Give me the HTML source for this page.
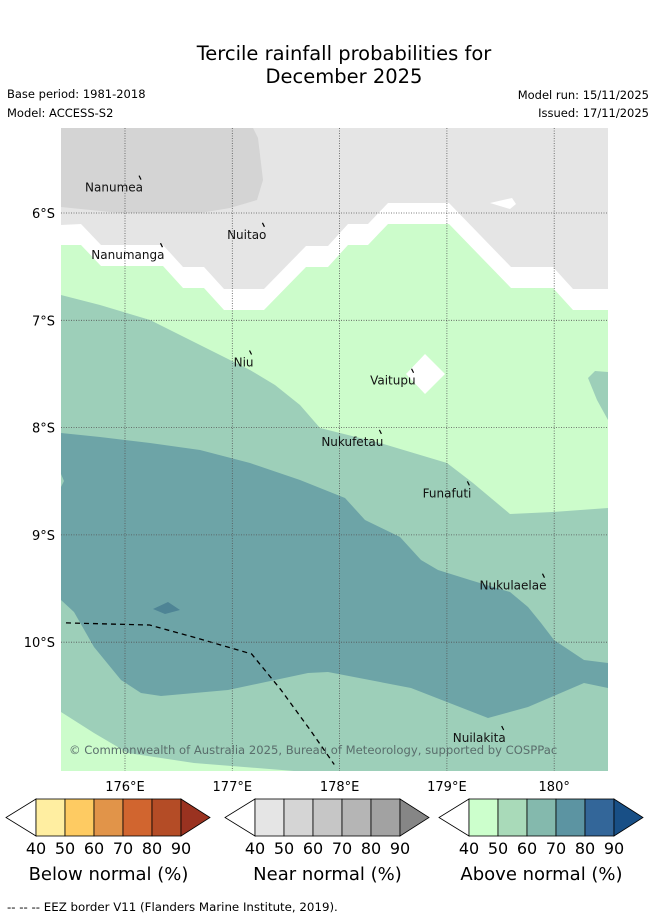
<!DOCTYPE html>
<html><head><meta charset="utf-8"><style>
body{margin:0;background:#fff;width:655px;height:919px;overflow:hidden;font-family:"Liberation Sans","DejaVu Sans",sans-serif}
svg text{font-family:"DejaVu Sans","Liberation Sans",sans-serif}
</style></head><body>
<svg id="fig" width="655" height="919" viewBox="0 0 655 919" xmlns="http://www.w3.org/2000/svg">
<text x="344" y="60" font-size="19.5" text-anchor="middle">Tercile rainfall probabilities for</text>
<text x="344" y="83" font-size="19.5" text-anchor="middle">December 2025</text>
<text x="7" y="98" font-size="11.5">Base period: 1981-2018</text>
<text x="7" y="117" font-size="11.5">Model: ACCESS-S2</text>
<text x="649" y="99" font-size="11.5" text-anchor="end">Model run: 15/11/2025</text>
<text x="649" y="117" font-size="11.5" text-anchor="end">Issued: 17/11/2025</text>
<defs><clipPath id="mc"><rect x="61" y="128" width="547" height="643"/></clipPath></defs>
<g id="map" clip-path="url(#mc)"></g>
<g id="axes"></g>
<g id="bars"></g>
<text x="7" y="911" font-size="11.8">--  --  -- EEZ border V11 (Flanders Marine Institute, 2019).</text>
</svg>
<script>
const NS='http://www.w3.org/2000/svg';
const lonTicks=[176,177,178,179,180];
const lonLabels=['176°E','177°E','178°E','179°E','180°'];
const latTicks=[6,7,8,9,10];
const latLabels=['6°S','7°S','8°S','9°S','10°S'];
const islandNames=['Nanumea','Nuitao','Nanumanga','Niu','Vaitupu','Nukufetau','Funafuti','Nukulaelae','Nuilakita'];
const islandLon=[176.14,177.29,176.34,177.17,178.68,178.38,179.2,179.9,179.52];
const islandLat=[5.67,6.11,6.3,7.3,7.47,8.04,8.52,9.38,10.8];
const legendTicks=[40,50,60,70,80,90];
const belowColors=['#ffeea1','#fecb62','#e19449','#d1652f','#b44c26','#9a3220'];
const nearColors=['#e5e5e5','#d5d5d5','#c6c6c6','#b5b5b5','#a2a2a2','#868686'];
const aboveColors=['#ccffcc','#a9dab9','#84b9ad','#5c94a2','#336699','#184f86'];
function X(lon){return 125+(lon-176)*107.3;}
function Y(lat){return 213+(lat-6)*107.3;}
const map=document.getElementById('map');
function poly(pts,fill,name){const p=document.createElementNS(NS,'polygon');
p.setAttribute('points',pts.map(q=>q[0]+','+q[1]).join(' '));p.setAttribute('fill',fill);


map.appendChild(p);}
function rect(x,y,w,h,f,name){const r=document.createElementNS(NS,'rect');r.setAttribute('x',x);r.setAttribute('y',y);r.setAttribute('width',w);r.setAttribute('height',h);r.setAttribute('fill',f);


map.appendChild(r);}
rect(61,128,547,643,'#e5e5e5','near-normal-40-50');
poly([[61,128],[253,128],[258,138],[263,180],[257,200],[230,208],[200,213],[120,213],[61,207]],'#d4d4d4','near-normal-50-60');
const greenTop=[[61,245],[81,245],[101,266],[163,266],[183,288],[204,288],[224,310],[264,310],[306,267],[328,267],[348,245],[368,245],[388,224],[449,224],[511,288],[553,288],[573,310],[620,310]];
poly([[61,225]].concat(greenTop.map(p=>[p[0],p[1]-21]).slice(1),[[620,500],[61,500]]),'#ffffff','no-dominant-band');
poly([[40,245]].concat(greenTop,[[620,780],[40,780]]),'#ccfccb','above-normal-40-50');
poly([[425,354],[445,374],[425,394],[406,374]],'#ffffff','vaitupu-gap');
poly([[490,203],[512,198],[516,204],[510,209]],'#ffffff','small-gap');
poly([[61,295],[100,305],[150,320],[200,345],[250,370],[275,385],[300,405],[320,428],[380,443],[447,463],[473,483],[510,514],[553,512],[608,508],[608,780],[61,780]],'#9dcfb9','above-normal-50-60');
poly([[608,372],[595,371],[588,378],[597,400],[608,420]],'#9dcfb9','above-normal-50-60-east');
poly([[61,712],[94,733],[128,753],[194,763],[294,771],[61,771]],'#ccfccb','above-normal-40-50-south');
poly([[61,433],[100,437],[150,443],[200,450],[250,463],[300,480],[345,498],[365,520],[400,537],[421,560],[438,570],[470,580],[510,592],[528,607],[541,623],[554,640],[584,660],[608,663],[608,688],[584,683],[528,707],[488,718],[411,688],[328,672],[308,673],[228,690],[161,696],[141,693],[121,680],[94,647],[74,612],[61,600]],'#6da4a7','above-normal-60-70');
poly([[61,474],[64,481],[61,487]],'#9dcfb9','edge-blip');
poly([[153,609],[168,602],[180,610],[165,614]],'#4e8495','above-normal-70-80');
const ax=document.getElementById('axes');
function line(x1,y1,x2,y2,st,dash,w,name,par){const l=document.createElementNS(NS,'line');l.setAttribute('x1',x1);l.setAttribute('y1',y1);l.setAttribute('x2',x2);l.setAttribute('y2',y2);l.setAttribute('stroke',st);l.setAttribute('stroke-width',w);if(dash)l.setAttribute('stroke-dasharray',dash);


(par||ax).appendChild(l);}
function txt(x,y,s,sz,anc,fill,name,par){const t=document.createElementNS(NS,'text');t.setAttribute('x',x);t.setAttribute('y',y);t.setAttribute('font-size',sz);t.setAttribute('text-anchor',anc);t.setAttribute('fill',fill||'#000');t.textContent=s;


(par||ax).appendChild(t);return t;}
const eez=document.createElementNS(NS,'polyline');
eez.setAttribute('points',[[175.45,9.82],[176.23,9.84],[176.7,9.97],[177.18,10.11],[177.45,10.44],[177.72,10.81],[177.95,11.14]].map(p=>X(p[0])+','+Y(p[1])).join(' '));
eez.setAttribute('fill','none');eez.setAttribute('stroke','#000');eez.setAttribute('stroke-width','1.3');eez.setAttribute('stroke-dasharray','5,4');


map.appendChild(eez);
lonTicks.forEach((v,i)=>{line(X(v),128,X(v),771,'#555','1,1.5',0.8,'lon-gridline');txt(X(v),791,lonLabels[i],13,'middle','#000','lon-tick-label');});
latTicks.forEach((v,i)=>{line(61,Y(v),608,Y(v),'#555','1,1.5',0.8,'lat-gridline');txt(55,Y(v)+5,latLabels[i],13,'end','#000','lat-tick-label');});
islandNames.forEach((n,i)=>{const x=X(islandLon[i]),y=Y(islandLat[i]);
line(x-1,y-2,x+1,y+2,'#000',null,1.2,'island-'+n.toLowerCase());
txt(x+3,y+14,n,12,'end','#111','island-label');});
txt(69,754,'© Commonwealth of Australia 2025, Bureau of Meteorology, supported by COSPPac',11.6,'start','#5a6e6c','copyright');
const bars=document.getElementById('bars');
function cbar(x0,cols,title,name){const g=document.createElementNS(NS,'g');


bars.appendChild(g);
const w=29,y0=799,h=37,boxL=x0+30;
const lt=document.createElementNS(NS,'polygon');lt.setAttribute('points',`${boxL},${y0} ${x0},${y0+h/2} ${boxL},${y0+h}`);lt.setAttribute('fill','#fff');lt.setAttribute('stroke','#000');lt.setAttribute('stroke-width','0.8');


g.appendChild(lt);
for(let i=0;i<5;i++){const r=document.createElementNS(NS,'rect');r.setAttribute('x',boxL+i*w);r.setAttribute('y',y0);r.setAttribute('width',w);r.setAttribute('height',h);r.setAttribute('fill',cols[i]);r.setAttribute('stroke','#000');r.setAttribute('stroke-width','0.8');


g.appendChild(r);}
const e=boxL+5*w;const rt=document.createElementNS(NS,'polygon');rt.setAttribute('points',`${e},${y0} ${e+29},${y0+h/2} ${e},${y0+h}`);rt.setAttribute('fill',cols[5]);rt.setAttribute('stroke','#000');rt.setAttribute('stroke-width','0.8');


g.appendChild(rt);
legendTicks.forEach((v,i)=>txt(boxL+i*w,854,String(v),16,'middle','#000','colorbar-tick',g));
txt(boxL+2.5*w,880,title,18,'middle','#000','colorbar-title',g);}
cbar(6,belowColors,'Below normal (%)','below-normal-colorbar');
cbar(225,nearColors,'Near normal (%)','near-normal-colorbar');
cbar(439,aboveColors,'Above normal (%)','above-normal-colorbar');
</script>
</body></html>
